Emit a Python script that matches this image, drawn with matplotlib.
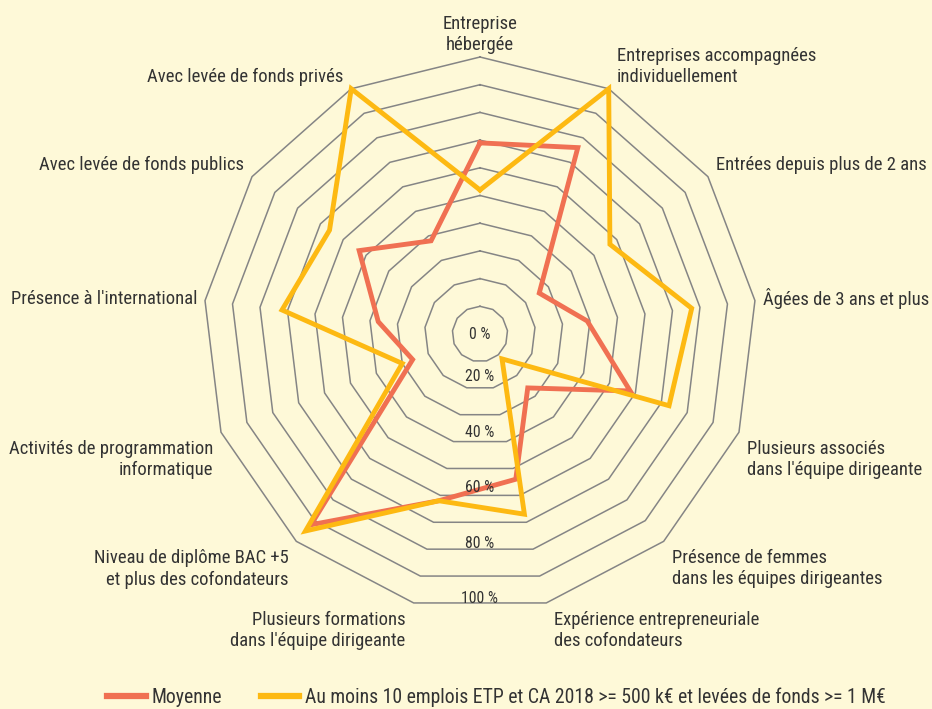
import numpy as np
import matplotlib
matplotlib.use("Agg")
import matplotlib.pyplot as plt

categories = [
    "Entreprise\nhébergée",
    "Entreprises accompagnées\nindividuellement",
    "Entrées depuis plus de 2 ans",
    "Âgées de 3 ans et plus",
    "Plusieurs associés\ndans l'équipe dirigeante",
    "Présence de femmes\ndans les équipes dirigeantes",
    "Expérience entrepreneuriale\ndes cofondateurs",
    "Plusieurs formations\ndans l'équipe dirigeante",
    "Niveau de diplôme BAC +5\net plus des cofondateurs",
    "Activités de programmation\ninformatique",
    "Présence à l'international",
    "Avec levée de fonds publics",
    "Avec levée de fonds privés",
]
moyenne = [69, 76, 26, 39, 58, 26, 54, 62, 92, 26, 37, 53, 38]
grands = [52, 100, 57, 77, 73, 12, 67, 62, 95, 30, 72, 66, 100]
series_names = ["Moyenne",
                "Au moins 10 emplois ETP et CA 2018 >= 500 k€ et levées de fonds >= 1 M€"]
tick_values = [0, 20, 40, 60, 80, 100]
tick_labels = ["0 %", "20 %", "40 %", "60 %", "80 %", "100 %"]

plt.rcParams['font.family'] = ['Roboto Condensed', 'Roboto', 'DejaVu Sans']

BG = '#FEF9D8'
ORANGE = '#F07052'
YELLOW = '#FDB912'
GRID = '#858585'
TXT = '#333333'

fig = plt.figure(figsize=(9.32, 7.09), dpi=100, facecolor=BG)
ax = fig.add_axes([0.2178, 0.1382, 0.5944, 0.7814], projection='polar')
ax.set_facecolor('none')
ax.set_theta_zero_location('N')
ax.set_theta_direction(-1)
ax.set_ylim(0, 100)
ax.grid(False)
ax.set_xticks([])
ax.set_yticks([])
ax.spines['polar'].set_visible(False)

n = len(categories)
theta = np.arange(n) * 2 * np.pi / n
theta_c = np.append(theta, theta[0])

for k in range(1, 11):
    ax.plot(theta_c, [k * 10] * (n + 1), color=GRID, lw=1.1, zorder=1, clip_on=False)

ax.plot(theta_c, moyenne + [moyenne[0]], color=ORANGE, lw=3.5, zorder=3,
        solid_joinstyle='miter', clip_on=False, label=series_names[0])
ax.plot(theta_c, grands + [grands[0]], color=YELLOW, lw=3.5, zorder=4,
        solid_joinstyle='miter', clip_on=False, label=series_names[1])

for v, lab in zip(tick_values, tick_labels):
    ax.text(np.pi, max(v - 4.5, 0), lab, ha='center', va='center',
            fontsize=11.3, color=TXT, zorder=5)

for t, lab in zip(theta, categories):
    s, c = np.sin(t), np.cos(t)
    if s > 0.1:
        ha, dx = 'left', 8
    elif s < -0.1:
        ha, dx = 'right', -8
    else:
        ha, dx = 'center', 0
    if c > 0.3:
        va, dy = 'bottom', 3
    elif c < -0.3:
        va, dy = 'top', -8
    else:
        va, dy = 'center', 2
    ax.annotate(lab, xy=(t, 100), xytext=(dx, dy), textcoords='offset pixels',
                ha=ha, va=va, fontsize=13.4, color=TXT, annotation_clip=False,
                linespacing=1.22)

leg = fig.legend(loc='center left', bbox_to_anchor=(0.1150, 0.0169), ncol=2, frameon=False,
                 fontsize=14.2, handlelength=1.95, handletextpad=0.3, columnspacing=1.95,
                 borderpad=0, borderaxespad=0, labelcolor=TXT)
for h in leg.legend_handles:
    h.set_linewidth(4.5)

fig.savefig('out.png', dpi=100, facecolor=BG)
